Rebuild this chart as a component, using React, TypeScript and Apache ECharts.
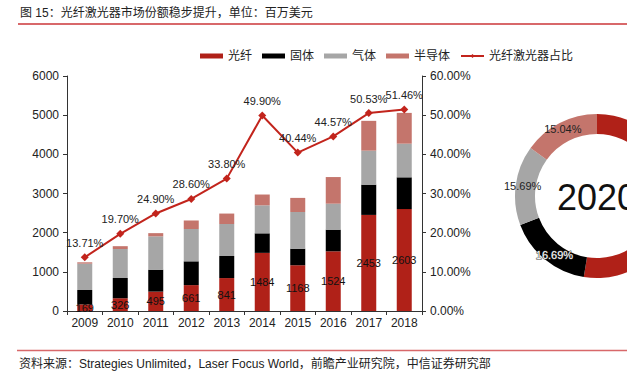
import React, { useEffect, useRef } from "react";
import * as echarts from "echarts";

const years = ["2009", "2010", "2011", "2012", "2013", "2014", "2015", "2016", "2017", "2018"];
const fiber = [169, 326, 495, 661, 841, 1484, 1168, 1524, 2453, 2603];
const solid = [367, 517, 560, 607, 563, 499, 423, 553, 773, 810];
const gas = [673, 740, 851, 826, 817, 715, 937, 663, 868, 859];
const semi = [34, 72, 82, 217, 267, 276, 360, 680, 761, 786];
const fiberShare = [13.71, 19.7, 24.9, 28.6, 33.8, 49.9, 40.44, 44.57, 50.53, 51.46];

const leftTicks = { min: 0, max: 6000, interval: 1000 };
const rightTicks = { min: 0, max: 60, interval: 10 };

const pieNames = ["光纤", "固体", "气体", "半导体"];
const pieValues = [52.58, 16.69, 15.69, 15.04];
const pieYear = "2020";

const titleText = "图 15：光纤激光器市场份额稳步提升，单位：百万美元";
const sourceText = "资料来源：Strategies Unlimited，Laser Focus World，前瞻产业研究院，中信证券研究部";

const C_FIBER = "#B02118";
const C_SOLID = "#000000";
const C_GAS = "#A6A6A6";
const C_SEMI = "#C4756C";
const C_LINE = "#C2241C";
const LAT = "'Liberation Sans', Arial, sans-serif";
const CJK = "'Liberation Sans', 'Noto Sans CJK SC', sans-serif";

export default function App() {
  const ref = useRef<HTMLDivElement>(null);
  useEffect(() => {
    if (!ref.current) return;
    const chart = echarts.init(ref.current, null, { renderer: "svg" });
    const barCommon = {
      type: "bar",
      stack: "total",
      barWidth: 15,
      yAxisIndex: 0,
    };
    chart.setOption({
      animation: false,
      textStyle: { fontFamily: CJK },
      legend: {
        left: 195,
        top: 45,
        itemWidth: 23,
        itemHeight: 5,
        itemGap: 10,
        textStyle: { fontSize: 12, color: "#222", fontFamily: CJK },
        data: [
          { name: "光纤", icon: "rect" },
          { name: "固体", icon: "rect" },
          { name: "气体", icon: "rect" },
          { name: "半导体", icon: "rect" },
          { name: "光纤激光器占比" },
        ],
      },
      grid: { left: 67, right: 205, top: 76, bottom: 68 },
      xAxis: {
        type: "category",
        data: years,
        axisLine: { lineStyle: { color: "#333", width: 1 } },
        axisTick: { show: true, length: 4, lineStyle: { color: "#333" } },
        axisLabel: { fontSize: 12, color: "#222", fontFamily: LAT, margin: 6 },
      },
      yAxis: [
        {
          type: "value",
          ...leftTicks,
          axisLine: { show: true, lineStyle: { color: "#333" } },
          axisTick: { show: true, length: 4, lineStyle: { color: "#333" } },
          splitLine: { show: false },
          axisLabel: {
            fontSize: 12,
            color: "#222",
            fontFamily: LAT,
            margin: 8,
            formatter: (v: number) => String(v),
          },
        },
        {
          type: "value",
          ...rightTicks,
          position: "right",
          axisLine: { show: true, lineStyle: { color: "#333" } },
          axisTick: { show: true, length: 4, lineStyle: { color: "#333" } },
          splitLine: { show: false },
          axisLabel: {
            fontSize: 12,
            color: "#222",
            fontFamily: LAT,
            margin: 8,
            formatter: (v: number) => v.toFixed(2) + "%",
          },
        },
      ],
      series: [
        {
          ...barCommon,
          name: "光纤",
          data: fiber,
          itemStyle: { color: C_FIBER },
          label: { show: true, position: "inside", color: "#111", fontSize: 11, fontFamily: LAT },
        },
        { ...barCommon, name: "固体", data: solid, itemStyle: { color: C_SOLID } },
        { ...barCommon, name: "气体", data: gas, itemStyle: { color: C_GAS } },
        { ...barCommon, name: "半导体", data: semi, itemStyle: { color: C_SEMI } },
        {
          type: "line",
          name: "光纤激光器占比",
          yAxisIndex: 1,
          data: fiberShare,
          symbol: "diamond",
          symbolSize: 8,
          lineStyle: { color: C_LINE, width: 2 },
          itemStyle: { color: C_LINE },
          label: {
            show: true,
            position: "top",
            distance: 5,
            fontSize: 11,
            color: "#222",
            fontFamily: LAT,
            formatter: (p: any) => Number(p.value).toFixed(2) + "%",
          },
          z: 5,
        },
        {
          type: "pie",
          center: [597, 196],
          radius: [62, 82],
          startAngle: 90,
          clockwise: true,
          legendHoverLink: false,
          silent: true,
          label: {
            show: true,
            position: "inside",
            fontSize: 11,
            color: "#222",
            fontFamily: LAT,
            formatter: (p: any) => Number(p.value).toFixed(2) + "%",
          },
          labelLine: { show: false },
          data: pieNames.map((n, i) => ({
            name: n,
            value: pieValues[i],
            itemStyle: { color: [C_FIBER, C_SOLID, C_GAS, C_SEMI][i] },
            label:
              i === 0
                ? { show: false }
                : i === 1
                ? { color: "#fff", textBorderColor: "#444", textBorderWidth: 1, offset: [5, 1] }
                : undefined,
          })),
        },
      ],
      graphic: [
        {
          type: "text",
          left: 20,
          top: 7,
          style: { text: titleText, fontSize: 12, fill: "#222", fontFamily: CJK },
        },
        {
          type: "line",
          shape: { x1: 18, y1: 24, x2: 627, y2: 24 },
          style: { stroke: "#D8686A", lineWidth: 2 },
        },
        {
          type: "text",
          x: 557,
          y: 197,
          style: {
            text: pieYear,
            fontSize: 36,
            fill: "#111",
            fontFamily: LAT,
            verticalAlign: "middle",
            textAlign: "left",
          },
        },
        {
          type: "line",
          shape: { x1: 17, y1: 350.5, x2: 627, y2: 350.5 },
          style: { stroke: "#D8686A", lineWidth: 1.5 },
        },
        {
          type: "text",
          left: 19,
          top: 358,
          style: { text: sourceText, fontSize: 12, fill: "#222", fontFamily: CJK },
        },
      ],
    });
    return () => chart.dispose();
  }, []);
  return (
    <div
      ref={ref}
      style={{ position: "fixed", left: 0, top: 0, width: 627, height: 379, background: "#fff" }}
    />
  );
}
